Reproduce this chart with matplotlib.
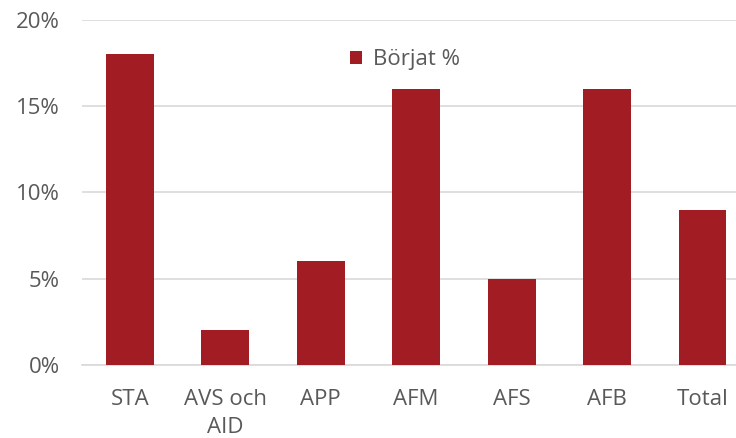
import matplotlib
matplotlib.use("Agg")
import matplotlib.pyplot as plt
from matplotlib.ticker import FuncFormatter, MultipleLocator

categories = ["STA", "AVS och\nAID", "APP", "AFM", "AFS", "AFB", "Total"]
values = [18, 2, 6, 16, 5, 16, 9]
series_name = "Börjat %"

plt.rcParams['font.family'] = ['Open Sans', 'DejaVu Sans']
text_color = "#595959"
bar_color = "#A21C24"

fig = plt.figure(figsize=(7.36, 4.38), dpi=100)
ax = fig.add_axes([0.1114, 0.1667, 0.8886, 0.788])
x = list(range(len(categories)))
ax.bar(x, values, width=0.5, color=bar_color, label=series_name, zorder=3)

ax.set_ylim(0, 20)
ax.set_xlim(-0.5, 6.35)
ax.yaxis.set_major_locator(MultipleLocator(5))
ax.yaxis.set_major_formatter(FuncFormatter(lambda v, p: f"{int(v)}%"))
ax.grid(axis='y', color="#d9d9d9", linewidth=1.2, zorder=0)
for s in ['top', 'right', 'left']:
    ax.spines[s].set_visible(False)
ax.spines['bottom'].set_color("#d9d9d9")
ax.spines['bottom'].set_linewidth(1.2)
ax.set_xticks(x)
ax.set_xticklabels(categories, linespacing=1.45)
ax.tick_params(axis='both', length=0, labelsize=16, colors=text_color)
ax.tick_params(axis='y', pad=16)
ax.tick_params(axis='x', pad=17)

leg = ax.legend(loc='center', bbox_to_anchor=(0.494, 0.884), frameon=False,
                fontsize=16, handlelength=0.55, handleheight=0.55, handletextpad=0.5)
for t in leg.get_texts():
    t.set_color(text_color)

fig.savefig("out.png", dpi=100)
